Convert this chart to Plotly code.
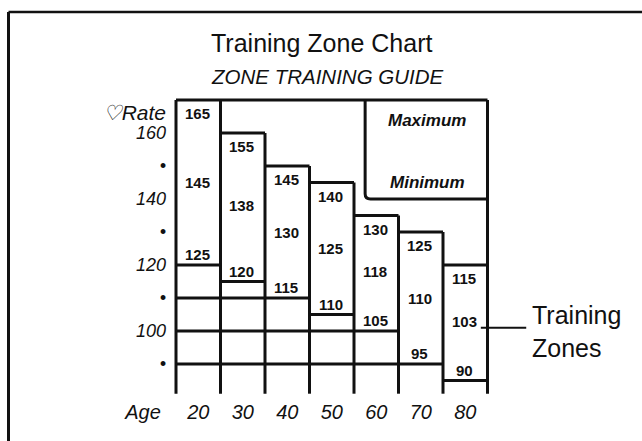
import plotly.graph_objects as go

# ---------------- data ----------------
ages = [20, 30, 40, 50, 60, 70, 80]
zone_top = [170, 160, 150, 145, 135, 130, 120]
zone_bottom = [120, 115, 110, 105, 100, 90, 85]
max_rate = [165, 155, 145, 140, 130, 125, 115]
mid_rate = [145, 138, 130, 125, 118, 110, 103]
min_rate = [125, 120, 115, 110, 105, 95, 90]
zone_lines = [110, 100, 90]
y_tick_vals = [166, 160, 150, 140, 130, 120, 110, 100, 90]
y_tick_text = ["♡Rate", "160", "•", "140", "•", "120", "•", "100", "•"]
x_axis_name = "Age"

# ---------------- layout constants ----------------
W, H = 642, 441
FONT = "Liberation Sans, Arial, sans-serif"
INK = "#111111"
n = len(ages)
floor = 81
chart_top = zone_top[0]
legend_left, legend_bottom = 4.25, 140

# build the line segments of the zone grid
segs = []
segs.append(((0, chart_top), (n, chart_top)))
segs.append(((0, floor), (0, chart_top)))
segs.append(((n, floor), (n, chart_top)))
for i in range(1, n):
    segs.append(((i, floor), (i, zone_top[i - 1])))
    segs.append(((i, zone_top[i]), (i + 1, zone_top[i])))
for i in range(n):
    segs.append(((i, zone_bottom[i]), (i + 1, zone_bottom[i])))
for z in zone_lines:
    cols = [i for i in range(n) if zone_bottom[i] > z]
    if cols:
        segs.append(((0, z), (max(cols) + 1, z)))

xs, ys = [], []
for (a, b) in segs:
    xs += [a[0], b[0], None]
    ys += [a[1], b[1], None]

fig = go.Figure()
fig.add_trace(go.Scatter(x=xs, y=ys, mode="lines",
                         line=dict(color=INK, width=3),
                         hoverinfo="skip", showlegend=False))

# legend box (rounded lower-left corner)
rx, ry = 0.12, 1.6
path = (f"M {legend_left},{chart_top} L {legend_left},{legend_bottom + ry} "
        f"Q {legend_left},{legend_bottom} {legend_left + rx},{legend_bottom} "
        f"L {n},{legend_bottom}")
fig.add_shape(type="path", path=path, xref="x", yref="y",
              line=dict(color=INK, width=3))

# zone numbers
num_font = dict(family=FONT, size=15, color=INK, weight="bold")
for i in range(n):
    cx = i + 0.48
    for vals, shift in ((max_rate, 3), (mid_rate, 0), (min_rate, -6)):
        fig.add_annotation(x=cx, y=vals[i], text=str(vals[i]), showarrow=False,
                           font=num_font, xref="x", yref="y", yshift=shift,
                           xanchor="center", yanchor="middle")

# legend text
leg_cx = (legend_left + n) / 2 + 0.02
fig.add_annotation(x=leg_cx, y=max_rate[0] - 1.3, text="Maximum", showarrow=False,
                   xanchor="center", yanchor="middle",
                   font=dict(family=FONT, size=17, color=INK, weight="bold", style="italic"))
fig.add_annotation(x=leg_cx, y=legend_bottom + 5, text="Minimum", showarrow=False,
                   xanchor="center", yanchor="middle",
                   font=dict(family=FONT, size=17, color=INK, weight="bold", style="italic"))

# "Training Zones" callout
fig.add_trace(go.Scatter(x=[n - 0.15, n + 0.87], y=[101, 101], mode="lines",
                         line=dict(color=INK, width=2), hoverinfo="skip", showlegend=False))
fig.add_annotation(x=n + 0.955, y=100, text="Training<br>Zones", showarrow=False,
                   xanchor="left", yanchor="middle", align="left",
                   font=dict(family=FONT, size=25, color=INK))

# titles
fig.add_annotation(xref="paper", yref="paper", x=322 / W, y=1 - 43 / H,
                   xanchor="center", yanchor="middle",
                   text="Training Zone Chart", showarrow=False,
                   font=dict(family=FONT, size=25, color=INK))
fig.add_annotation(xref="paper", yref="paper", x=327 / W, y=1 - 76 / H,
                   xanchor="center", yanchor="middle",
                   text="ZONE TRAINING GUIDE", showarrow=False,
                   font=dict(family=FONT, size=20.5, color=INK, style="italic"))

# outer frame
top_p = 1 - 12 / H
left_p = 8.5 / W
fig.add_shape(type="line", xref="paper", yref="paper", x0=left_p, x1=1, y0=top_p, y1=top_p,
              line=dict(color=INK, width=2.5))
fig.add_shape(type="line", xref="paper", yref="paper", x0=left_p, x1=left_p, y0=0, y1=top_p,
              line=dict(color=INK, width=3))

px_per_u = 44.5
px_per_v = 3.3
x0_px, y160_px = 176, 133
x_range = [-x0_px / px_per_u, (W - x0_px) / px_per_u]
y_range = [160 - (H - y160_px) / px_per_v, 160 + y160_px / px_per_v]

y_text_styled = [f"<span style='font-size:21px'>{t}</span>" if t.endswith("Rate") else t
                 for t in y_tick_text]

fig.update_layout(
    width=W, height=H, margin=dict(l=0, r=0, t=0, b=0),
    paper_bgcolor="white", plot_bgcolor="white",
    xaxis=dict(range=x_range, showgrid=False, zeroline=False, showline=False,
               tickvals=[-0.74] + [i + 0.5 for i in range(n)],
               ticktext=[x_axis_name] + [str(a) for a in ages],
               ticks="", anchor="free", position=(H - 397) / H,
               ticklabelstandoff=1,
               tickfont=dict(family=FONT, size=20, color=INK, style="italic")),
    yaxis=dict(range=y_range, showgrid=False, zeroline=False, showline=False,
               tickvals=y_tick_vals, ticktext=y_text_styled,
               ticks="", anchor="free", position=x0_px / W,
               ticklabelstandoff=10,
               tickfont=dict(family=FONT, size=18, color=INK, style="italic")),
    showlegend=False,
)

fig.write_html("out.html", config={"displayModeBar": False},
               post_script="document.body.style.margin='0';document.body.style.overflow='hidden';")
